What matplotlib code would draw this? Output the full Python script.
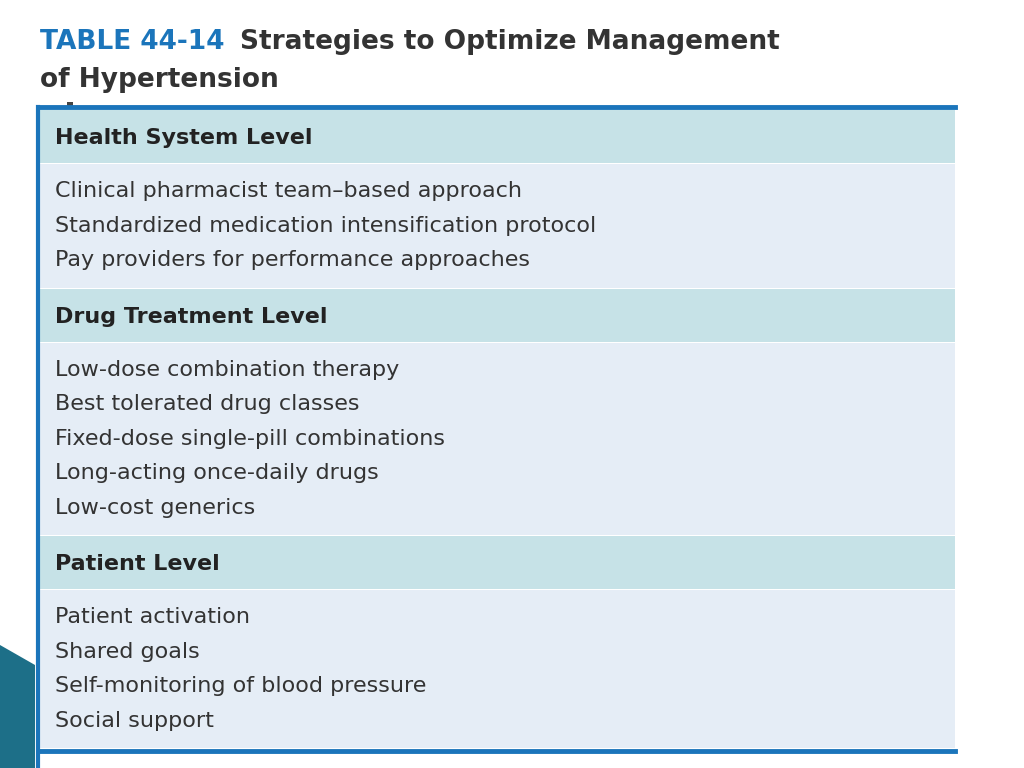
import matplotlib
matplotlib.use('Agg')
from matplotlib import pyplot as plt
from matplotlib.patches import Rectangle, Polygon

table_no = 'TABLE 44-14'
title_1 = 'Strategies to Optimize Management'
title_2 = 'of Hypertension'
sections = ['Health System Level', 'Drug Treatment Level', 'Patient Level']
items = [
	['Clinical pharmacist team\u2013based approach',
	 'Standardized medication intensification protocol',
	 'Pay providers for performance approaches'],
	['Low-dose combination therapy',
	 'Best tolerated drug classes',
	 'Fixed-dose single-pill combinations',
	 'Long-acting once-daily drugs',
	 'Low-cost generics'],
	['Patient activation',
	 'Shared goals',
	 'Self-monitoring of blood pressure',
	 'Social support'],
]

head_col = '#c6e2e7'
body_col = '#e5edf6'
blue = '#1b75bb'

fig = plt.figure(figsize=(10.24, 7.68), dpi=100)
ax = fig.add_axes([0, 0, 1, 1])
ax.set_xlim(0, 1024)
ax.set_ylim(768, 0)
ax.axis('off')

ax.text(40, 42, table_no, color=blue, fontsize=19, fontweight='bold', va='center')
ax.text(240, 42, title_1, color='#333333', fontsize=19, fontweight='bold', va='center')
ax.text(40, 80, title_2, color='#333333', fontsize=19, fontweight='bold', va='center')

x0, x1 = 40, 955
head_h = 53
line_h = 34.5
pad = 10
y = 110
for sec, its in zip(sections, items):
	ax.add_patch(Rectangle((x0, y), x1 - x0, head_h, color=head_col, lw=0))
	ax.text(55, y + head_h / 2 + 2, sec, fontsize=16, fontweight='bold', color='#222222', va='center')
	y += head_h + 1
	body_h = len(its) * line_h + 2 * pad
	ax.add_patch(Rectangle((x0, y), x1 - x0, body_h, color=body_col, lw=0))
	for i, it in enumerate(its):
		ax.text(55, y + pad + line_h * (i + 0.5), it, fontsize=16, color='#333333', va='center')
	y += body_h + 1

ax.plot([x0, x1], [107, 107], color=blue, lw=3.5)
ax.plot([x0, x1], [y + 2, y + 2], color=blue, lw=3.5)
ax.plot([38, 38], [107, 768], color=blue, lw=3)
ax.add_patch(Polygon([[0, 645], [35, 665], [35, 768], [0, 768]], color='#1d6f88', lw=0))
ax.add_patch(Rectangle((67, 102), 6, 6, color='#444444', lw=0))

plt.savefig('out.png', dpi=100)
plt.close()
